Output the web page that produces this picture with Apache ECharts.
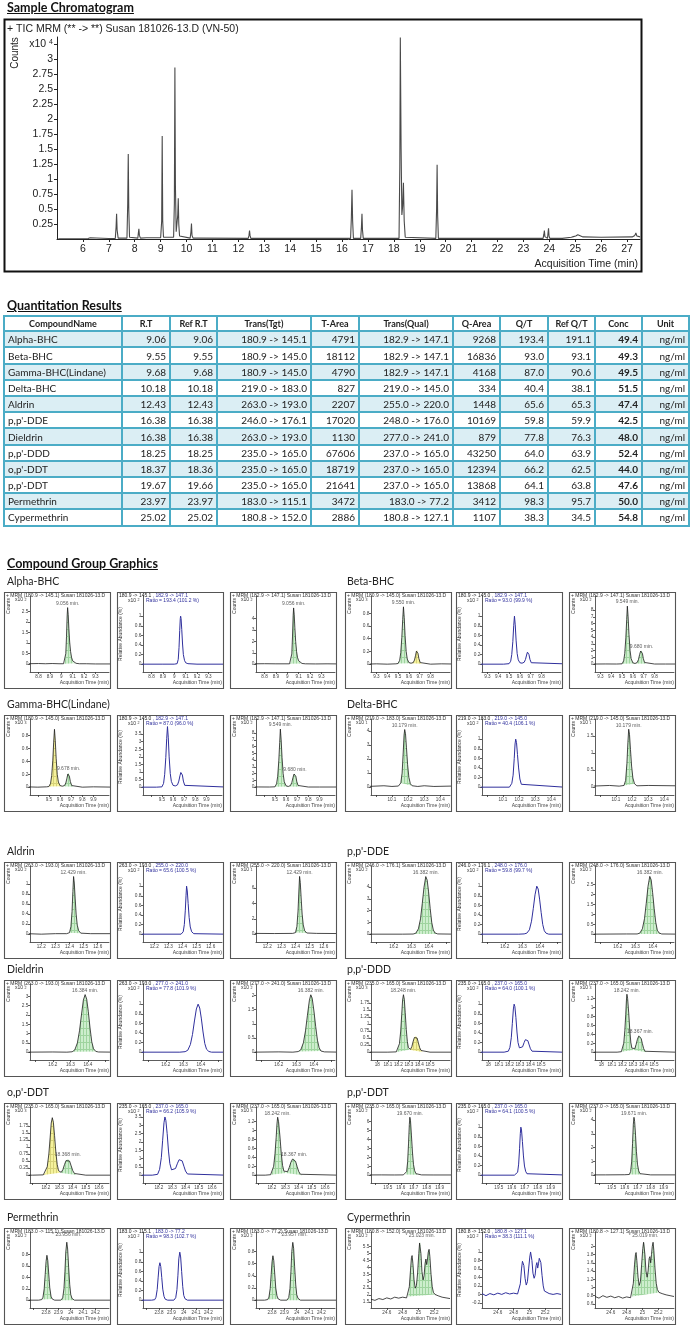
<!DOCTYPE html>
<html><head><meta charset="utf-8">
<script src="https://cdn.jsdelivr.net/npm/echarts@6.0.0/dist/echarts.min.js"></script>
<style>
html,body{margin:0;padding:0;background:#fff}
body{width:696px;height:1328px;position:relative;overflow:hidden;font-family:Lato,'Liberation Sans',sans-serif}
#c{position:absolute;left:0;top:0;width:696px;height:1328px}
.h{position:absolute;left:7px;font-weight:700;font-size:12.5px;text-decoration:underline;color:#111;line-height:14px;white-space:nowrap}
.cn{position:absolute;font-size:10.5px;color:#222;line-height:13px;white-space:nowrap}
#tbl{position:absolute;left:3px;top:315px;border-collapse:collapse;table-layout:fixed;width:686px;font-size:10px;color:#222}
#tbl td,#tbl th{border:2px solid #4bacc6;padding:0 3px;white-space:nowrap;overflow:hidden}
#tbl th{font-weight:700;font-size:9px;text-align:center;background:#fff;height:13.3px;line-height:13px}
#tbl td{text-align:right;height:14.2px;line-height:14px}
#tbl td.l{text-align:left}
#tbl td.b{font-weight:700}
#tbl tr.alt td{background:#dbeef4}
</style></head><body>
<div id="c"></div>
<div class="h" style="top:1px">Sample Chromatogram</div>
<div class="h" style="top:299px">Quantitation Results</div>
<div class="h" style="top:557px">Compound Group Graphics</div>
<table id="tbl"></table>
<script>
// ================= DATA =================
// Sample chromatogram (TIC), time (min), counts x10^4
const ticData = [[5.05,0.005],[6.2,0.008],[6.28,0.02],[6.33,0.008],[7.0,0.008],[7.25,0.01],[7.28,0.2],[7.3,0.42],[7.32,0.15],[7.36,0.015],[7.7,0.015],[7.73,0.6],[7.75,1.42],[7.77,0.5],[7.8,0.03],[7.85,0.015],[8.12,0.015],[8.14,0.1],[8.16,0.17],[8.18,0.06],[8.22,0.015],[8.45,0.02],[8.5,0.04],[8.55,0.02],[8.62,0.035],[8.7,0.02],[9.0,0.02],[9.04,0.3],[9.06,1.72],[9.08,0.3],[9.11,0.03],[9.5,0.03],[9.53,0.6],[9.55,2.86],[9.57,0.9],[9.6,0.12],[9.64,0.1],[9.66,0.4],[9.68,0.68],[9.7,0.25],[9.73,0.05],[9.8,0.02],[10.14,0.015],[10.17,0.12],[10.19,0.26],[10.21,0.06],[10.25,0.015],[10.42,0.015],[10.45,0.03],[10.48,0.015],[12.38,0.01],[12.41,0.06],[12.43,0.14],[12.45,0.06],[12.48,0.01],[14.75,0.01],[14.8,0.02],[14.85,0.01],[14.95,0.01],[15.0,0.02],[15.05,0.01],[16.33,0.01],[16.36,0.35],[16.385,0.82],[16.41,0.3],[16.44,0.01],[16.72,0.01],[16.75,0.2],[16.77,0.42],[16.79,0.15],[16.82,0.01],[17.65,0.01],[17.7,0.025],[17.75,0.01],[18.2,0.01],[18.23,1.2],[18.25,3.36],[18.28,1.5],[18.31,0.4],[18.34,0.55],[18.37,0.94],[18.4,0.3],[18.44,0.03],[18.5,0.01],[19.62,0.01],[19.65,0.5],[19.67,1.24],[19.69,0.4],[19.72,0.01],[23.76,0.01],[23.79,0.08],[23.81,0.14],[23.83,0.04],[23.86,0.01],[23.93,0.01],[23.955,0.12],[23.97,0.18],[23.99,0.05],[24.02,0.01],[24.5,0.01],[24.52,0.03],[24.85,0.03],[24.9,0.06],[24.93,0.04],[24.98,0.07],[25.02,0.05],[25.06,0.06],[25.1,0.07],[25.15,0.04],[25.3,0.035],[26.0,0.03],[27.2,0.035],[27.3,0.06],[27.34,0.1],[27.38,0.05],[27.45,0.035],[27.5,0.035]];
const ticXTicks = [6,7,8,9,10,11,12,13,14,15,16,17,18,19,20,21,22,23,24,25,26,27];
const ticYTicks = [0.25,0.5,0.75,1,1.25,1.5,1.75,2,2.25,2.5,2.75,3];

// Quantitation results table
const tblHead = ['CompoundName','R.T','Ref R.T','Trans(Tgt)','T-Area','Trans(Qual)','Q-Area','Q/T','Ref Q/T','Conc','Unit'];
const tblCompounds = ['Alpha-BHC','Beta-BHC','Gamma-BHC(Lindane)','Delta-BHC','Aldrin',"p,p'-DDE",'Dieldrin',"p,p'-DDD","o,p'-DDT","p,p'-DDT",'Permethrin','Cypermethrin'];
const tblRT = ['9.06','9.55','9.68','10.18','12.43','16.38','16.38','18.25','18.37','19.67','23.97','25.02'];
const tblRefRT = ['9.06','9.55','9.68','10.18','12.43','16.38','16.38','18.25','18.36','19.66','23.97','25.02'];
const tblTransTgt = ['180.9 -> 145.1','180.9 -> 145.0','180.9 -> 145.0','219.0 -> 183.0','263.0 -> 193.0','246.0 -> 176.1','263.0 -> 193.0','235.0 -> 165.0','235.0 -> 165.0','235.0 -> 165.0','183.0 -> 115.1','180.8 -> 152.0'];
const tblTArea = ['4791','18112','4790','827','2207','17020','1130','67606','18719','21641','3472','2886'];
const tblTransQual = ['182.9 -> 147.1','182.9 -> 147.1','182.9 -> 147.1','219.0 -> 145.0','255.0 -> 220.0','248.0 -> 176.0','277.0 -> 241.0','237.0 -> 165.0','237.0 -> 165.0','237.0 -> 165.0','183.0 -> 77.2','180.8 -> 127.1'];
const tblQArea = ['9268','16836','4168','334','1448','10169','879','43250','12394','13868','3412','1107'];
const tblQT = ['193.4','93.0','87.0','40.4','65.6','59.8','77.8','64.0','66.2','64.1','98.3','38.3'];
const tblRefQT = ['191.1','93.1','90.6','38.1','65.3','59.9','76.3','63.9','62.5','63.8','95.7','34.5'];
const tblConc = ['49.4','49.3','49.5','51.5','47.4','42.5','48.0','52.4','44.0','47.6','50.0','54.8'];
const tblUnit = ['ng/ml','ng/ml','ng/ml','ng/ml','ng/ml','ng/ml','ng/ml','ng/ml','ng/ml','ng/ml','ng/ml','ng/ml'];
const ratioPct = ['101.2','99.9','96.0','106.1','100.5','99.7','101.9','100.1','105.9','100.5','102.7','111.1'];

// Compound group graphics traces [time, response]
const alphaTgt = [[8.7,0.02],[8.8,0.03],[8.86,0.02],[8.92,0.03],[8.98,0.02],[9.02,0.02],[9.03,0.06],[9.04,0.5],[9.046,1.3],[9.052,2.3],[9.056,2.68],[9.061,2.35],[9.067,1.7],[9.074,1.05],[9.082,0.6],[9.09,0.33],[9.1,0.16],[9.11,0.08],[9.13,0.04],[9.16,0.02],[9.22,0.02],[9.3,0.01],[9.45,0.01]];
const alphaRat = [[8.7,0],[8.9,0],[9.0,0],[9.025,0.01],[9.035,0.1],[9.042,0.35],[9.048,0.7],[9.053,0.95],[9.056,1.0],[9.06,0.95],[9.066,0.72],[9.073,0.42],[9.08,0.2],[9.09,0.08],[9.1,0.03],[9.12,0.01],[9.2,0],[9.45,0]];
const t1829 = [[8.7,0.03],[8.8,0.04],[8.9,0.03],[8.98,0.03],[9.02,0.03],[9.03,0.1],[9.04,0.9],[9.046,2.4],[9.052,4.3],[9.056,4.95],[9.061,4.4],[9.067,3.2],[9.074,2.0],[9.082,1.1],[9.09,0.6],[9.1,0.3],[9.11,0.15],[9.13,0.06],[9.16,0.03],[9.25,0.02],[9.35,0.03],[9.45,0.02],[9.5,0.05],[9.515,0.5],[9.525,1.6],[9.535,3.9],[9.543,6.6],[9.549,8.6],[9.556,7.0],[9.564,4.4],[9.574,2.0],[9.584,0.8],[9.6,0.2],[9.62,0.1],[9.64,0.25],[9.652,0.7],[9.662,1.4],[9.672,1.95],[9.68,2.0],[9.688,1.6],[9.697,0.8],[9.708,0.25],[9.72,0.05],[9.8,0.02],[9.9,0.02],[10.1,0.02]];
const t1809 = [[9.2,0],[9.3,0.005],[9.4,0],[9.48,0.005],[9.5,0.01],[9.515,0.06],[9.525,0.18],[9.535,0.42],[9.543,0.7],[9.55,0.9],[9.557,0.73],[9.565,0.45],[9.575,0.2],[9.585,0.08],[9.6,0.025],[9.62,0.015],[9.64,0.025],[9.652,0.065],[9.662,0.14],[9.67,0.205],[9.677,0.22],[9.684,0.17],[9.693,0.085],[9.705,0.025],[9.72,0.005],[9.8,0],[9.9,0.005],[10.1,0]];
const betaRat = [[9.2,0],[9.45,0],[9.5,0.01],[9.515,0.06],[9.525,0.2],[9.535,0.47],[9.543,0.8],[9.55,1.0],[9.557,0.82],[9.565,0.5],[9.575,0.22],[9.585,0.09],[9.6,0.03],[9.62,0.02],[9.64,0.04],[9.652,0.1],[9.662,0.19],[9.67,0.25],[9.676,0.26],[9.684,0.2],[9.693,0.1],[9.705,0.03],[9.72,0],[10.1,0]];
const gammaRat = [[9.2,0],[9.45,0],[9.5,0.02],[9.515,0.25],[9.525,0.85],[9.535,1.95],[9.543,3.2],[9.55,4.0],[9.557,3.3],[9.565,2.0],[9.575,0.9],[9.585,0.38],[9.6,0.12],[9.62,0.08],[9.64,0.15],[9.652,0.4],[9.662,0.75],[9.67,0.97],[9.676,1.0],[9.684,0.8],[9.693,0.4],[9.705,0.12],[9.72,0.02],[10.1,0]];
const deltaTgt = [[9.95,0.05],[10.05,0.1],[10.1,0.05],[10.14,0.08],[10.155,0.3],[10.163,1.0],[10.17,2.5],[10.175,3.7],[10.179,4.1],[10.184,3.8],[10.19,2.8],[10.197,1.6],[10.205,0.7],[10.214,0.25],[10.225,0.1],[10.26,0.05],[10.3,0.1],[10.36,0.05],[10.48,0.08]];
const deltaRat = [[9.95,0],[10.14,0],[10.155,0.08],[10.163,0.25],[10.17,0.6],[10.175,0.9],[10.179,1.0],[10.184,0.93],[10.19,0.68],[10.197,0.4],[10.205,0.17],[10.214,0.06],[10.225,0.02],[10.48,0]];
const deltaQual = [[9.95,0.03],[10.06,0.05],[10.12,0.03],[10.15,0.05],[10.16,0.2],[10.168,0.7],[10.174,1.3],[10.179,1.7],[10.184,1.55],[10.19,1.1],[10.197,0.62],[10.205,0.27],[10.215,0.1],[10.23,0.04],[10.3,0.05],[10.48,0.04]];
const aldTgt = [[12.1,0.01],[12.2,0.0],[12.3,0.01],[12.38,0.01],[12.4,0.03],[12.41,0.15],[12.418,0.45],[12.424,0.85],[12.429,1.15],[12.434,1.02],[12.44,0.72],[12.447,0.4],[12.455,0.18],[12.465,0.07],[12.48,0.02],[12.55,0.01],[12.7,0.01]];
const aldRat = [[12.1,0],[12.39,0],[12.405,0.05],[12.413,0.2],[12.42,0.5],[12.425,0.8],[12.429,1.0],[12.434,0.9],[12.44,0.64],[12.447,0.35],[12.455,0.15],[12.465,0.05],[12.48,0.01],[12.7,0]];
const aldQual = [[12.1,0.1],[12.25,0.08],[12.38,0.1],[12.4,0.2],[12.41,1.0],[12.418,3.0],[12.424,5.6],[12.429,7.5],[12.434,6.7],[12.44,4.7],[12.447,2.6],[12.455,1.2],[12.465,0.45],[12.48,0.15],[12.55,0.1],[12.7,0.08]];
const ddeTgt = [[16.05,0],[16.25,0],[16.31,0.01],[16.325,0.08],[16.34,0.45],[16.352,1.3],[16.362,2.6],[16.372,4.0],[16.382,4.9],[16.39,4.6],[16.398,3.6],[16.407,2.2],[16.416,1.0],[16.425,0.35],[16.435,0.1],[16.45,0.02],[16.55,0]];
const ddeRat = [[16.05,0],[16.28,0],[16.31,0.005],[16.325,0.02],[16.34,0.09],[16.352,0.27],[16.362,0.53],[16.372,0.82],[16.382,1.0],[16.39,0.94],[16.398,0.73],[16.407,0.45],[16.416,0.2],[16.425,0.07],[16.435,0.02],[16.45,0],[16.55,0]];
const ddeQual = [[16.05,0],[16.25,0.01],[16.31,0.01],[16.325,0.05],[16.34,0.27],[16.352,0.78],[16.362,1.55],[16.372,2.4],[16.382,2.9],[16.39,2.72],[16.398,2.1],[16.407,1.3],[16.416,0.6],[16.425,0.2],[16.435,0.06],[16.45,0.01],[16.55,0]];
const dielTgt = [[16.05,0],[16.2,0.01],[16.28,0],[16.31,0.02],[16.325,0.12],[16.34,0.5],[16.352,1.15],[16.363,2.0],[16.374,2.8],[16.384,3.1],[16.393,2.85],[16.402,2.2],[16.412,1.3],[16.422,0.55],[16.432,0.18],[16.445,0.04],[16.46,0.01],[16.55,0]];
const dielRat = [[16.05,0],[16.28,0],[16.31,0.01],[16.325,0.04],[16.34,0.16],[16.352,0.37],[16.363,0.65],[16.374,0.9],[16.384,1.0],[16.393,0.92],[16.402,0.71],[16.412,0.42],[16.422,0.18],[16.432,0.06],[16.445,0.015],[16.46,0],[16.55,0]];
const dielQual = [[16.05,0],[16.2,0.01],[16.28,0],[16.31,0.02],[16.325,0.08],[16.34,0.33],[16.352,0.75],[16.363,1.3],[16.374,1.82],[16.382,2.02],[16.39,1.9],[16.4,1.45],[16.41,0.9],[16.42,0.42],[16.43,0.15],[16.44,0.04],[16.46,0.01],[16.55,0]];
const t2350 = [[17.9,0],[18.1,0],[18.18,0.01],[18.195,0.08],[18.21,0.3],[18.222,0.75],[18.232,1.35],[18.24,1.85],[18.248,2.04],[18.256,1.88],[18.265,1.4],[18.275,0.8],[18.285,0.38],[18.295,0.16],[18.305,0.09],[18.315,0.1],[18.328,0.2],[18.34,0.38],[18.352,0.52],[18.365,0.57],[18.378,0.5],[18.39,0.33],[18.402,0.16],[18.415,0.06],[18.43,0.01],[18.5,0],[18.7,0]];
const dddRat = [[17.9,0],[18.15,0],[18.19,0.02],[18.205,0.1],[18.218,0.3],[18.228,0.6],[18.238,0.9],[18.245,1.0],[18.252,0.95],[18.262,0.72],[18.272,0.42],[18.282,0.2],[18.295,0.09],[18.31,0.07],[18.325,0.11],[18.34,0.2],[18.352,0.26],[18.362,0.28],[18.375,0.24],[18.388,0.15],[18.4,0.07],[18.415,0.02],[18.43,0],[18.7,0]];
const t2370 = [[17.9,0],[18.15,0],[18.19,0.01],[18.2,0.05],[18.213,0.2],[18.223,0.48],[18.232,0.85],[18.238,1.15],[18.243,1.3],[18.25,1.2],[18.26,0.88],[18.27,0.5],[18.28,0.22],[18.29,0.09],[18.305,0.05],[18.318,0.08],[18.33,0.17],[18.343,0.29],[18.355,0.36],[18.367,0.37],[18.378,0.31],[18.39,0.19],[18.402,0.08],[18.415,0.02],[18.43,0],[18.7,0]];
const opRat = [[17.9,0],[18.15,0],[18.19,0.05],[18.205,0.35],[18.218,1.05],[18.228,2.1],[18.238,3.15],[18.245,3.5],[18.252,3.3],[18.262,2.5],[18.272,1.45],[18.282,0.7],[18.295,0.32],[18.31,0.25],[18.325,0.4],[18.34,0.72],[18.352,0.93],[18.362,1.0],[18.375,0.86],[18.388,0.54],[18.4,0.25],[18.415,0.07],[18.43,0],[18.7,0]];
const ppTgt = [[19.3,0.02],[19.45,0.03],[19.55,0.02],[19.62,0.03],[19.635,0.08],[19.645,0.4],[19.653,1.5],[19.66,3.6],[19.666,5.7],[19.67,6.5],[19.675,6.1],[19.682,4.5],[19.69,2.6],[19.698,1.2],[19.707,0.5],[19.717,0.17],[19.73,0.06],[19.76,0.03],[19.85,0.02],[20.05,0.02]];
const ppRat = [[19.3,0],[19.62,0],[19.635,0.01],[19.645,0.06],[19.653,0.23],[19.66,0.55],[19.666,0.87],[19.67,1.0],[19.675,0.94],[19.682,0.7],[19.69,0.4],[19.698,0.19],[19.707,0.08],[19.717,0.03],[19.73,0.01],[20.05,0]];
const ppQual = [[19.3,0.02],[19.45,0.02],[19.6,0.03],[19.635,0.05],[19.645,0.26],[19.653,0.97],[19.66,2.3],[19.666,3.7],[19.671,4.2],[19.676,3.9],[19.683,2.9],[19.69,1.7],[19.698,0.8],[19.707,0.32],[19.717,0.11],[19.73,0.04],[19.8,0.02],[20.05,0.02]];
const permTgt = [[23.6,0],[23.74,0],[23.765,0.01],[23.775,0.05],[23.785,0.2],[23.793,0.45],[23.8,0.68],[23.807,0.79],[23.814,0.7],[23.822,0.46],[23.83,0.22],[23.84,0.07],[23.85,0.02],[23.87,0],[23.92,0],[23.935,0.04],[23.945,0.2],[23.953,0.5],[23.96,0.85],[23.968,1.02],[23.975,0.9],[23.983,0.58],[23.992,0.27],[24.0,0.1],[24.01,0.03],[24.03,0],[24.35,0]];
const permRat = [[23.6,0],[23.74,0],[23.765,0.01],[23.775,0.06],[23.785,0.22],[23.793,0.48],[23.8,0.7],[23.807,0.78],[23.814,0.7],[23.822,0.47],[23.83,0.23],[23.84,0.08],[23.85,0.02],[23.87,0],[23.92,0],[23.935,0.05],[23.945,0.22],[23.953,0.52],[23.96,0.86],[23.968,1.0],[23.975,0.9],[23.983,0.6],[23.992,0.28],[24.0,0.1],[24.01,0.03],[24.03,0],[24.35,0]];
const permQual = [[23.6,0],[23.74,0],[23.765,0.01],[23.775,0.05],[23.785,0.19],[23.793,0.42],[23.8,0.63],[23.807,0.73],[23.814,0.65],[23.822,0.43],[23.83,0.2],[23.84,0.07],[23.85,0.02],[23.87,0],[23.92,0],[23.935,0.04],[23.945,0.19],[23.953,0.47],[23.96,0.8],[23.968,0.95],[23.975,0.85],[23.983,0.55],[23.992,0.25],[24.0,0.09],[24.01,0.03],[24.03,0],[24.35,0]];
const cypTgt = [[24.4,1.7],[24.45,1.62],[24.5,1.75],[24.55,1.68],[24.6,1.8],[24.65,1.72],[24.7,1.85],[24.75,1.78],[24.8,1.85],[24.85,1.8],[24.87,1.9],[24.885,2.6],[24.9,3.8],[24.912,4.7],[24.92,4.85],[24.93,4.3],[24.945,3.1],[24.96,2.5],[24.975,2.7],[24.99,3.6],[25.005,5.0],[25.015,5.75],[25.022,5.85],[25.032,5.0],[25.045,3.7],[25.06,3.1],[25.072,3.4],[25.085,4.3],[25.095,4.6],[25.105,4.2],[25.115,4.6],[25.125,5.1],[25.135,5.3],[25.145,4.8],[25.16,3.5],[25.175,2.6],[25.19,2.2],[25.21,2.05],[25.25,1.95],[25.3,1.85],[25.35,1.8],[25.4,1.75]];
const cypRat = [[24.4,0.02],[24.45,-0.03],[24.5,0.02],[24.55,-0.01],[24.6,0.03],[24.65,0.0],[24.7,0.04],[24.75,0.01],[24.8,0.03],[24.85,0.01],[24.87,0.04],[24.885,0.25],[24.9,0.6],[24.912,0.78],[24.92,0.8],[24.93,0.68],[24.945,0.38],[24.96,0.22],[24.975,0.3],[24.99,0.6],[25.005,0.88],[25.015,1.0],[25.022,0.98],[25.032,0.8],[25.045,0.5],[25.06,0.38],[25.072,0.45],[25.085,0.68],[25.095,0.75],[25.105,0.62],[25.115,0.72],[25.125,0.85],[25.135,0.88],[25.145,0.75],[25.16,0.45],[25.175,0.2],[25.19,0.08],[25.21,0.04],[25.25,0.02],[25.3,0.0],[25.35,0.02],[25.4,0.0]];
const cypQual = [[24.4,0.78],[24.45,0.74],[24.5,0.8],[24.55,0.76],[24.6,0.79],[24.65,0.75],[24.7,0.78],[24.75,0.74],[24.8,0.77],[24.85,0.75],[24.87,0.78],[24.885,1.1],[24.9,1.55],[24.912,1.8],[24.92,1.85],[24.93,1.65],[24.945,1.25],[24.96,1.05],[24.975,1.15],[24.99,1.55],[25.005,1.95],[25.015,2.1],[25.022,2.08],[25.032,1.8],[25.045,1.4],[25.06,1.25],[25.072,1.4],[25.085,1.7],[25.095,1.75],[25.105,1.6],[25.115,1.8],[25.125,2.0],[25.135,2.1],[25.145,1.9],[25.16,1.45],[25.175,1.1],[25.19,0.95],[25.21,0.88],[25.25,0.85],[25.3,0.82],[25.35,0.8],[25.4,0.78]];

// Tick labels
const ytRat = [0,0.2,0.4,0.6,0.8,1];
const ytA1 = [0,0.5,1,1.5,2,2.5], ytA3 = [0,1,2,3,4];
const ytB1 = [0,0.2,0.4,0.6,0.8], ytB3 = [0,1,2,3,4,5,6,7,8], ytG2 = [0,0.5,1,1.5,2,2.5,3,3.5];
const ytD1 = [0,1,2,3,4], ytD3 = [0,0.5,1,1.5];
const ytAl1 = [0,0.2,0.4,0.6,0.8,1], ytAl3 = [0,2,4,6];
const ytE1 = [0,1,2,3,4], ytE3 = [0,0.5,1,1.5,2,2.5];
const ytDi1 = [0,0.5,1,1.5,2,2.5,3], ytDi3 = [0,0.5,1,1.5,2];
const ytDD1 = [0,0.25,0.5,0.75,1,1.25,1.5,1.75], ytDD3 = [0,0.2,0.4,0.6,0.8,1,1.2];
const ytP1 = [0,1,2,3,4,5,6], ytP3 = [0,1,2,3,4];
const ytPe1 = [0,0.2,0.4,0.6,0.8];
const ytC1 = [1.5,2,2.5,3,3.5,4,4.5,5,5.5], ytC2 = [-0.2,0,0.2,0.4,0.6,0.8,1], ytC3 = [0.6,0.8,1,1.2,1.4,1.6,1.8,2];
const xtAlpha = [8.8,8.9,9,9.1,9.2,9.3];
const xtBeta = [9.3,9.4,9.5,9.6,9.7,9.8];
const xtGamma = [9.4,9.5,9.6,9.7,9.8,9.9], xlGamma = [9.5,9.6,9.7,9.8,9.9];
const xtDelta = [10,10.1,10.2,10.3,10.4], xlDelta = [10.1,10.2,10.3,10.4];
const xtAld = [12.2,12.3,12.4,12.5,12.6];
const xtDie = [16.1,16.2,16.3,16.4,16.5], xlDie = [16.2,16.3,16.4];
const xtDDD = [18,18.1,18.2,18.3,18.4,18.5];
const xtOp = [18.1,18.2,18.3,18.4,18.5,18.6], xlOp = [18.2,18.3,18.4,18.5,18.6];
const xtPp = [19.4,19.5,19.6,19.7,19.8,19.9], xlPp = [19.5,19.6,19.7,19.8,19.9];
const xtPerm = [23.7,23.8,23.9,24,24.1,24.2], xlPerm = [23.8,23.9,24,24.1,24.2];
const xtCyp = [24.6,24.8,25,25.2];

// Integration windows [start, end, fill]
const intA = [[9.02,9.14,'g']];
const intB1 = [[9.5,9.62,'g'],[9.62,9.72,'y']], intB3 = [[9.5,9.62,'g'],[9.62,9.72,'g']];
const intG1 = [[9.5,9.62,'y'],[9.62,9.72,'g']];
const intD = [[10.15,10.225,'g']];
const intAl = [[12.4,12.48,'g']];
const intE = [[16.31,16.45,'g']];
const intDD1 = [[18.18,18.305,'g'],[18.305,18.43,'y']], intDD3 = [[18.19,18.305,'g'],[18.305,18.43,'g']];
const intOp1 = [[18.18,18.305,'y'],[18.305,18.43,'g']];
const intPp = [[19.63,19.73,'g']];
const intPe = [[23.765,23.86,'g'],[23.92,24.03,'g']];
const intC = [[24.87,25.21,'g']];

// Peak annotations [time, response, text]
const annA1 = [[9.056,2.68,'9.056 min.']], annA3 = [[9.056,4.95,'9.056 min.']];
const annB1 = [[9.55,0.9,'9.550 min.']], annB3 = [[9.549,8.6,'9.549 min.'],[9.68,2.0,'9.680 min.']];
const annG1 = [[9.677,0.22,'9.678 min.']], annG3 = annB3;
const annD1 = [[10.179,4.1,'10.179 min.']], annD3 = [[10.179,1.7,'10.179 min.']];
const annAl1 = [[12.429,1.15,'12.429 min.']], annAl3 = [[12.429,7.5,'12.429 min.']];
const annE1 = [[16.382,4.9,'16.382 min.']], annE3 = [[16.382,2.9,'16.382 min.']];
const annDi1 = [[16.384,3.1,'16.384 min.']], annDi3 = [[16.382,2.02,'16.382 min.']];
const annDD1 = [[18.248,2.04,'18.248 min.']], annDD3 = [[18.243,1.3,'18.242 min.'],[18.367,0.37,'18.367 min.']];
const annOp1 = [[18.365,0.57,'18.368 min.']];
const annPp1 = [[19.67,6.5,'19.670 min.']], annPp3 = [[19.671,4.2,'19.671 min.']];
const annPe1 = [[23.968,1.02,'* 23.956 min.']], annPe3 = [[23.968,0.95,'* 23.957 min.']];
const annC1 = [[25.022,5.85,'* 25.023 min.']], annC3 = [[25.015,2.1,'* 25.019 min.']];

// ================= TABLE =================
(function(){
  const colW = [118,48,47,94,48,94,47,48,47,47,47];
  let h = '<colgroup>' + colW.map(w=>'<col style="width:'+w+'px">').join('') + '</colgroup>';
  h += '<tr>' + tblHead.map(t=>'<th>'+t+'</th>').join('') + '</tr>';
  tblCompounds.forEach((n,i)=>{
    h += '<tr class="'+(i%2===0?'alt':'')+'"><td class="l">'+n+'</td><td>'+tblRT[i]+'</td><td>'+tblRefRT[i]+'</td><td>'+tblTransTgt[i]+'</td><td>'+tblTArea[i]+'</td><td>'+tblTransQual[i]+'</td><td>'+tblQArea[i]+'</td><td>'+tblQT[i]+'</td><td>'+tblRefQT[i]+'</td><td class="b">'+tblConc[i]+'</td><td>'+tblUnit[i]+'</td></tr>';
  });
  document.getElementById('tbl').innerHTML = h;
})();

// ================= CHART =================
const FF = 'Liberation Sans, Arial, sans-serif';
function hatch(bg, ln){
  const c=document.createElement('canvas'); c.width=3; c.height=7;
  const g=c.getContext('2d'); g.fillStyle=bg; g.fillRect(0,0,3,7);
  g.fillStyle=ln; g.fillRect(2,0,1,7); g.fillRect(0,6,3,1);
  return {image:c, repeat:'repeat'};
}
const FILLS = {g:hatch('#cdeecd','#9fd49f'), y:hatch('#f5f29c','#d6d178')};

const grid=[], xAxis=[], yAxis=[], series=[], graphic=[];
function addAxes(g,x,y){ grid.push(g); const gi=grid.length-1; x.gridIndex=gi; y.gridIndex=gi; xAxis.push(x); yAxis.push(y); return gi; }
function txt(x,y,text,o){ o=o||{}; graphic.push({type:'text', x:x, y:y, rotation:o.rot||0, silent:true, z:20,
  style:Object.assign({text:text, fill:o.color||'#333', fontSize:o.fs||5, fontFamily:FF, align:o.align||'left', verticalAlign:'middle'}, o.style||{})}); }

// --- Sample chromatogram ---
graphic.push({type:'rect', shape:{x:4.5,y:19.5,width:637,height:252}, style:{fill:'none', stroke:'#111', lineWidth:2}, silent:true, z:20});
txt(7,29,'+ TIC MRM (** -> **) Susan 181026-13.D (VN-50)',{fs:10.5,color:'#222'});
txt(15.5,53,'Counts',{fs:10,color:'#222',rot:Math.PI/2,align:'center'});
txt(638,264.5,'Acquisition Time (min)',{fs:10.5,color:'#222',align:'right'});
const mg = addAxes({left:57, top:37, width:583, height:202},
  {type:'value', min:5, max:27.5, splitLine:{show:false},
   axisLine:{onZero:false, lineStyle:{color:'#222', width:1}},
   axisTick:{customValues:ticXTicks, length:3, lineStyle:{color:'#222'}},
   axisLabel:{customValues:ticXTicks, fontSize:10.5, color:'#222', margin:5, fontFamily:FF}},
  {type:'value', min:0, max:3.37, splitLine:{show:false},
   axisLine:{onZero:false, lineStyle:{color:'#222', width:1}},
   axisTick:{customValues:ticYTicks.concat([3.25]), length:3, lineStyle:{color:'#222'}},
   axisLabel:{customValues:ticYTicks.concat([3.25]), fontSize:10.5, color:'#222', margin:4, fontFamily:FF,
     formatter:v=> v===3.25 ? '{a|x10} {s|4}' : String(v),
     rich:{a:{fontSize:10.5,color:'#222',fontFamily:FF}, s:{fontSize:7,color:'#222',fontFamily:FF,verticalAlign:'top'}}}});
series.push({type:'line', xAxisIndex:mg, yAxisIndex:mg, data:ticData, symbol:'none', clip:false, z:3,
  lineStyle:{color:'#4a4a4a', width:1.1}});

// --- Compound group panels ---
const comps = [
 {xr:[8.725,9.42], xt:xtAlpha, xl:xtAlpha, p:[
   {d:alphaTgt, y1:3.23, yt:ytA1, e:'2', f:intA, a:annA1},
   {d:alphaRat, y1:1.42, yt:ytRat, e:'2'},
   {d:t1829, y1:6.0, yt:ytA3, e:'2', f:intA, a:annA3}]},
 {xr:[9.25,9.98], xt:xtBeta, xl:xtBeta, p:[
   {d:t1809, y1:1.07, yt:ytB1, e:'3', f:intB1, a:annB1},
   {d:betaRat, y1:1.42, yt:ytRat, e:'2'},
   {d:t1829, y1:10.1, yt:ytB3, e:'2', f:intB3, a:annB3}]},
 {xr:[9.33,10.04], xt:xtGamma, xl:xlGamma, p:[
   {d:t1809, y1:1.06, yt:ytB1, e:'3', f:intG1, a:annG1},
   {d:gammaRat, y1:4.5, yt:ytG2, e:'2'},
   {d:t1829, y1:10.1, yt:ytB3, e:'2', f:intB3, a:annG3}]},
 {xr:[9.97,10.46], xt:xtDelta, xl:xlDelta, p:[
   {d:deltaTgt, y1:4.85, yt:ytD1, e:'1', f:intD, a:annD1},
   {d:deltaRat, y1:1.42, yt:ytRat, e:'2'},
   {d:deltaQual, y1:2.0, yt:ytD3, e:'1', f:intD, a:annD3}]},
 {xr:[12.12,12.68], xt:xtAld, xl:xtAld, p:[
   {d:aldTgt, y1:1.36, yt:ytAl1, e:'2', f:intAl, a:annAl1},
   {d:aldRat, y1:1.42, yt:ytRat, e:'2'},
   {d:aldQual, y1:8.85, yt:ytAl3, e:'1', f:intAl, a:annAl3}]},
 {xr:[16.07,16.52], xt:xtDie, xl:xlDie, p:[
   {d:ddeTgt, y1:5.8, yt:ytE1, e:'2', f:intE, a:annE1},
   {d:ddeRat, y1:1.42, yt:ytRat, e:'2'},
   {d:ddeQual, y1:3.42, yt:ytE3, e:'2', f:intE, a:annE3}]},
 {xr:[16.07,16.52], xt:xtDie, xl:xlDie, p:[
   {d:dielTgt, y1:3.67, yt:ytDi1, e:'2', f:intE, a:annDi1},
   {d:dielRat, y1:1.42, yt:ytRat, e:'2'},
   {d:dielQual, y1:2.4, yt:ytDi3, e:'2', f:intE, a:annDi3}]},
 {xr:[17.94,18.69], xt:xtDDD, xl:xtDDD, p:[
   {d:t2350, y1:2.42, yt:ytDD1, e:'3', f:intDD1, a:annDD1},
   {d:dddRat, y1:1.42, yt:ytRat, e:'2'},
   {d:t2370, y1:1.53, yt:ytDD3, e:'3', f:intDD3, a:annDD3}]},
 {xr:[18.08,18.675], xt:xtOp, xl:xlOp, p:[
   {d:t2350, y1:2.42, yt:ytDD1, e:'3', f:intOp1, a:annOp1},
   {d:opRat, y1:4.1, yt:ytG2, e:'2'},
   {d:t2370, y1:1.53, yt:ytDD3, e:'3', f:intDD3, a:annDD3}]},
 {xr:[19.37,19.98], xt:xtPp, xl:xlPp, p:[
   {d:ppTgt, y1:7.65, yt:ytP1, e:'2', f:intPp, a:annPp1},
   {d:ppRat, y1:1.42, yt:ytRat, e:'2'},
   {d:ppQual, y1:4.95, yt:ytP3, e:'2', f:intPp, a:annPp3}]},
 {xr:[23.67,24.31], xt:xtPerm, xl:xlPerm, p:[
   {d:permTgt, y1:1.2, yt:ytPe1, e:'2', f:intPe, a:annPe1, ad:5},
   {d:permRat, y1:1.42, yt:ytRat, e:'2'},
   {d:permQual, y1:1.12, yt:ytPe1, e:'2', f:intPe, a:annPe3, ad:5}]},
 {xr:[24.4,25.4], xt:xtCyp, xl:xtCyp, p:[
   {d:cypTgt, y0:1.07, y1:6.55, yt:ytC1, e:'2', f:intC, a:annC1, ad:4},
   {d:cypRat, y0:-0.32, y1:1.47, yt:ytC2, e:'2'},
   {d:cypQual, y0:0.5, y1:2.35, yt:ytC3, e:'2', f:intC, a:annC3, ad:4}]}
];

const colX = [[4,117,230],[345,456,569]];
const rowY = [592,715,862,980,1103,1228];
const PW=106, PH=96, BLUE='#2f2f9c';

function fillSeries(gi, pts, fill){
  return {type:'custom', xAxisIndex:gi, yAxisIndex:gi, data:pts, silent:true, z:2, clip:true,
    renderItem:(params, api)=>{
      if(params.dataIndex!==0) return null;
      return {type:'polygon', shape:{points:pts.map(p=>api.coord(p))}, style:{fill:fill, stroke:null}};
    }};
}

comps.forEach((c,k)=>{
  const side=k%2, row=Math.floor(k/2), py=rowY[row];
  const nameDiv=document.createElement('div'); nameDiv.className='cn';
  nameDiv.style.left=(side?347:7)+'px'; nameDiv.style.top=(py-17)+'px'; nameDiv.textContent=tblCompounds[k];
  document.body.appendChild(nameDiv);
  c.p.forEach((P,pi)=>{
    const px=colX[side][pi];
    const y0 = P.y0!==undefined ? P.y0 : -0.115*P.y1;
    const gi = addAxes({left:px+26, top:py+4, width:79, height:76},
      {type:'value', min:c.xr[0], max:c.xr[1], splitLine:{show:false},
       axisLine:{onZero:false, lineStyle:{color:'#333', width:0.8}},
       axisTick:{customValues:c.xt, length:2, lineStyle:{color:'#333', width:0.8}},
       axisLabel:{customValues:c.xl, fontSize:4.6, color:'#444', margin:2, fontFamily:FF, formatter:v=>String(v)}},
      {type:'value', min:y0, max:P.y1, splitLine:{show:false},
       axisLine:{onZero:false, lineStyle:{color:'#333', width:0.8}},
       axisTick:{customValues:P.yt, length:2, lineStyle:{color:'#333', width:0.8}},
       axisLabel:{customValues:P.yt, fontSize:4.8, color:'#444', margin:1.5, fontFamily:FF, formatter:v=>String(v)}});
    (P.f||[]).forEach(f=>{
      const pts=P.d.filter(p=>p[0]>=f[0] && p[0]<=f[1]);
      series.push(fillSeries(gi, pts, FILLS[f[2]]));
    });
    series.push({type:'line', xAxisIndex:gi, yAxisIndex:gi, data:P.d, symbol:'none', clip:true, z:4, silent:true,
      lineStyle:{color: pi===1?BLUE:'#1c1c1c', width: pi===1?1:0.8}});
    if(P.a) series.push({type:'scatter', xAxisIndex:gi, yAxisIndex:gi, data:P.a, symbolSize:0, silent:true, z:6,
      label:{show:true, position:'top', distance:P.ad||1.5, formatter:p=>p.value[2], fontSize:5, color:'#333', fontFamily:FF}});
    // frame & texts
    graphic.push({type:'rect', shape:{x:px+0.5,y:py+0.5,width:PW,height:PH}, style:{fill:'none', stroke:'#555', lineWidth:1.1}, silent:true, z:20});
    const rich = {a:{fontSize:5,fill:'#333',fontFamily:FF}, s:{fontSize:3.6,fill:'#333',fontFamily:FF,verticalAlign:'top'}};
    if(pi===1){
      txt(px+2, py+3.2, '{k|'+tblTransTgt[k]+'} {b|, '+tblTransQual[k]+'}', {style:{rich:{k:{fontSize:5,fill:'#222',fontFamily:FF}, b:{fontSize:5,fill:BLUE,fontFamily:FF}}}});
      txt(px+29, py+8.5, 'Ratio = '+tblQT[k]+' ('+ratioPct[k]+' %)', {color:BLUE});
      txt(px+22.5, py+8.5, '{a|x10} {s|'+P.e+'}', {align:'right', style:{rich:rich}});
      txt(px+4, py+42, 'Relative Abundance (%)', {rot:Math.PI/2, align:'center'});
    } else {
      const tr = pi===0 ? tblTransTgt[k] : tblTransQual[k];
      txt(px+2, py+3.2, '+ MRM ('+tr+') Susan 181026-13.D', {style:{width:102, overflow:'truncate', ellipsis:'..'}});
      txt(px+22.5, py+8, '{a|x10} {s|'+P.e+'}', {align:'right', style:{rich:rich}});
      txt(px+4.5, py+14, 'Counts', {rot:Math.PI/2, align:'center'});
    }
    txt(px+105, py+91, 'Acquisition Time (min)', {align:'right', color:'#444'});
  });
});

const chart = echarts.init(document.getElementById('c'), null, {renderer:'canvas', width:696, height:1328});
chart.setOption({backgroundColor:'transparent', animation:false, grid:grid, xAxis:xAxis, yAxis:yAxis, series:series, graphic:graphic});
</script>
</body></html>
